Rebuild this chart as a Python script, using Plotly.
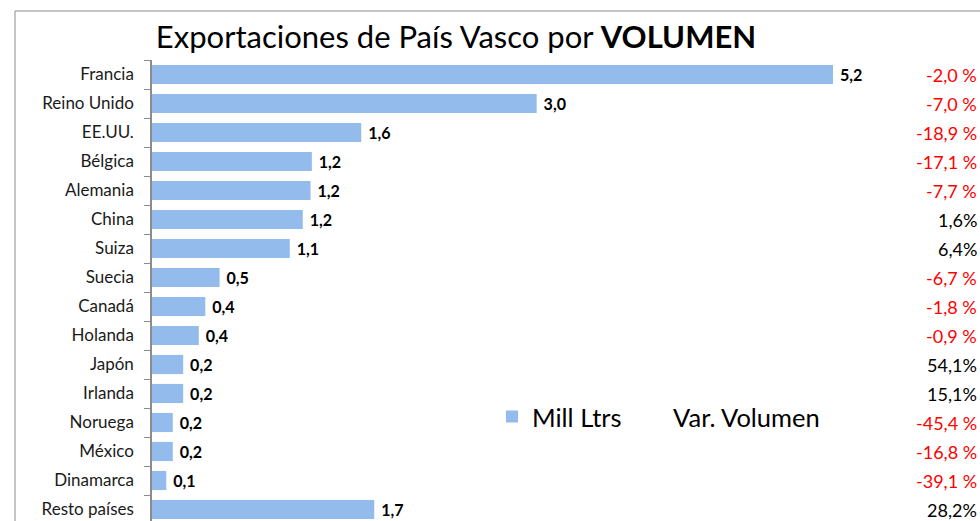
import plotly.graph_objects as go

paises = ["Francia", "Reino Unido", "EE.UU.", "Bélgica", "Alemania", "China", "Suiza",
          "Suecia", "Canadá", "Holanda", "Japón", "Irlanda", "Noruega", "México",
          "Dinamarca", "Resto países"]
mill_ltrs = [5.24, 2.96, 1.61, 1.23, 1.22, 1.16, 1.06, 0.52, 0.41, 0.36, 0.24, 0.24,
             0.16, 0.16, 0.11, 1.71]
var_volumen = [-2.0, -7.0, -18.9, -17.1, -7.7, 1.6, 6.4, -6.7, -1.8, -0.9, 54.1, 15.1,
               -45.4, -16.8, -39.1, 28.2]

FONT = "Lato"
W, H = 980, 521
ML, MR, MT, MB = 152, 3, 60, 0
PW, PH = W - ML - MR, H - MT - MB


def fmt_val(v):
    return "\u00a0" + f"{v:.1f}".replace(".", ",")


def fmt_var(v):
    s = f"{v:.1f}".replace(".", ",")
    return s + " %" if v < 0 else s + "%"


fig = go.Figure()
fig.add_trace(go.Bar(
    x=mill_ltrs, y=paises, orientation="h", name="Mill Ltrs\u00a0",
    marker=dict(color="#93BBEC", line=dict(width=0)),
    text=[fmt_val(v) for v in mill_ltrs], textposition="outside",
    textfont=dict(family=FONT, size=18.5, color="black", weight="bold"),
    cliponaxis=False,
))
fig.add_trace(go.Scatter(
    x=[None], y=[None], mode="markers", name="Var. Volumen",
    marker=dict(opacity=0, size=1, color="rgba(0,0,0,0)",
                line=dict(width=0, color="rgba(0,0,0,0)")),
    showlegend=True,
))

for p, v in zip(paises, var_volumen):
    fig.add_annotation(
        x=1.0, xref="paper", y=p, yref="y", text=fmt_var(v), showarrow=False,
        xanchor="right", yanchor="middle", xshift=2,
        font=dict(family=FONT, size=18, color="#FF0000" if v < 0 else "black"),
    )

# outer frame (partially outside the visible window, as in the reference)
fig.add_shape(type="rect", xref="paper", yref="paper",
              x0=(15 - ML) / PW, x1=1.05, y0=-0.05, y1=(H - 11 - MB) / PH,
              line=dict(color="#8C8C8C", width=1), layer="below")

fig.update_layout(
    width=W, height=H,
    margin=dict(l=ML, r=MR, t=MT, b=MB, pad=0),
    paper_bgcolor="white", plot_bgcolor="white",
    bargap=0.34,
    title=dict(text="Exportaciones de País Vasco por <b>VOLUMEN</b>",
               x=456 / W, xanchor="center", y=1 - 37 / H, yanchor="middle",
               font=dict(family=FONT, size=31, color="black")),
    showlegend=True,
    legend=dict(orientation="h", x=(492 - ML) / PW, xanchor="left",
                y=(H - 417 - MB) / PH, yanchor="middle",
                font=dict(family=FONT, size=25.5, color="black"),
                bgcolor="rgba(0,0,0,0)", itemclick=False),
    xaxis=dict(range=[0, 5.24 * PW / (833 - ML)], visible=False, fixedrange=True),
    yaxis=dict(type="category", categoryorder="array", categoryarray=paises,
               range=[-0.5 + PH / 29, -0.5],
               showline=True, linecolor="#8C8C8C", linewidth=1.5,
               ticks="outside", tickson="boundaries", ticklen=6, tickcolor="#8C8C8C",
               ticklabelstandoff=13, showgrid=False,
               tickfont=dict(family=FONT, size=17, color="#1a1a1a")),
)

fig.write_html(
    "out.html",
    config={"displayModeBar": False},
    post_script="document.body.style.margin='0';document.body.style.overflow='hidden';",
)
